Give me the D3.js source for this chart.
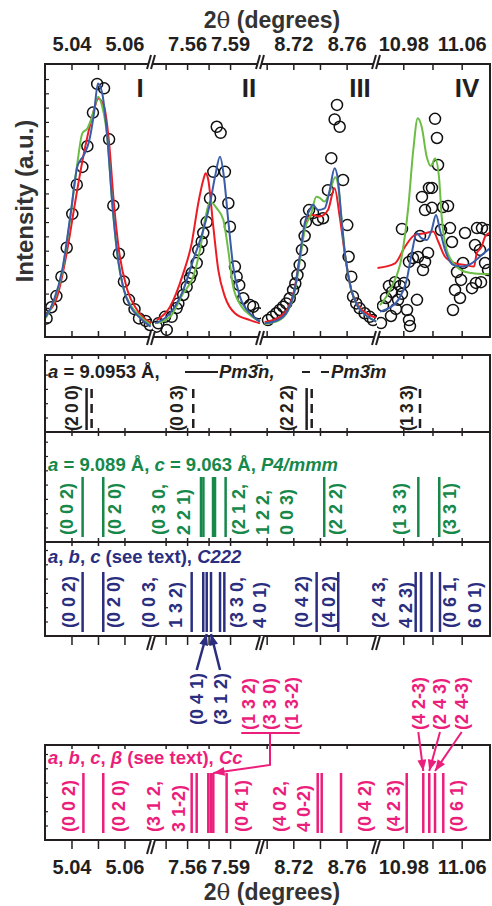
<!DOCTYPE html>
<html>
<head>
<meta charset="utf-8">
<script src="https://cdn.jsdelivr.net/npm/d3@7"></script>
<style>
  body { margin: 0; background: #fff; }
  svg { display: block; font-family: "Liberation Sans", Arial, sans-serif; font-weight: bold; }
</style>
</head>
<body>
<script>
// ---- data (2theta in degrees, intensity in arbitrary units) ----
const segDomains = [[5.03, 5.0704], [7.5355, 7.6116], [8.69575, 8.7828], [10.944, 11.0988]];
const majorTicks = [5.04, 5.06, 7.56, 7.59, 8.72, 8.76, 10.98, 11.06];
const tickLabels = ['5.04', '5.06', '7.56', '7.59', '8.72', '8.76', '10.98', '11.06'];
const minorTicks = [5.05, 7.545, 7.575, 8.70, 8.74, 11.02];
const peakNames = ['I', 'II', 'III', 'IV'];

const obs1 = [[5.0306,6.8],[5.0324,10.9],[5.0343,15.0],[5.0362,22.1],[5.0382,32.7],[5.0403,45.1],[5.0420,55.8],[5.0441,62.3],[5.0460,69.9],[5.0481,82.2],[5.0497,92.7],[5.0523,91.1],[5.0542,72.4],[5.0558,48.1],[5.0579,30.5],[5.0598,20.3],[5.0617,13.6],[5.0638,10.2],[5.0655,6.8],[5.0680,5.9],[5.0696,4.4]];
const red1 = [[5.0309,8.8],[5.0346,14.8],[5.0384,31.9],[5.0409,46.5],[5.0435,61.2],[5.0460,73.4],[5.0485,83.2],[5.0501,87.4],[5.0523,84.4],[5.0542,71.1],[5.0560,49.1],[5.0579,31.9],[5.0611,17.2],[5.0648,9.9],[5.0699,5.1]];
const green1 = [[5.0303,7.0],[5.0334,13.2],[5.0365,23.8],[5.0397,44.7],[5.0422,63.6],[5.0441,74.6],[5.0460,76.4],[5.0478,80.7],[5.0501,88.0],[5.0516,84.4],[5.0535,73.4],[5.0554,49.0],[5.0573,30.0],[5.0598,17.2],[5.0623,11.7],[5.0661,7.4],[5.0699,4.4]];
const blue1 = [[5.0303,7.4],[5.0334,13.6],[5.0365,24.5],[5.0397,45.3],[5.0422,62.4],[5.0447,66.7],[5.0466,71.5],[5.0485,81.9],[5.0500,92.9],[5.0516,89.3],[5.0535,73.4],[5.0554,49.0],[5.0573,30.7],[5.0598,17.2],[5.0623,11.1],[5.0661,6.8],[5.0699,3.8]];

const obs2 = [[7.5388,3.8],[7.5399,5.0],[7.5446,7.4],[7.5458,2.6],[7.5492,7.4],[7.5527,10.6],[7.5539,12.3],[7.5573,15.4],[7.5597,18.4],[7.5620,21.6],[7.5632,23.4],[7.5667,27.1],[7.5678,31.9],[7.5702,34.9],[7.5713,38.1],[7.5737,42.1],[7.5760,50.8],[7.5783,60.5],[7.5807,77.0],[7.5834,74.8],[7.5864,60.5],[7.5888,49.0],[7.5899,40.4],[7.5934,25.8],[7.5946,22.1],[7.5964,19.0],[7.5992,14.2],[7.6039,11.7],[7.6062,11.1],[7.6097,8.7]];
const red2 = [[7.5388,6.2],[7.5481,11.1],[7.5573,23.3],[7.5632,34.3],[7.5678,49.0],[7.5713,57.5],[7.5730,60.0],[7.5748,57.5],[7.5783,40.4],[7.5818,24.5],[7.5864,14.8],[7.5934,8.7],[7.6039,6.2],[7.6109,5.0]];
const green2 = [[7.5388,5.0],[7.5481,7.4],[7.5573,16.0],[7.5643,22.1],[7.5690,31.9],[7.5725,42.9],[7.5760,49.6],[7.5806,47.2],[7.5853,42.9],[7.5887,31.9],[7.5922,18.4],[7.5981,11.1],[7.6039,8.1],[7.6109,5.6]];
const blue2 = [[7.5376,5.0],[7.5481,8.7],[7.5573,17.2],[7.5643,28.2],[7.5713,39.2],[7.5760,49.0],[7.5795,58.7],[7.5830,66.0],[7.5857,58.7],[7.5887,42.9],[7.5922,25.8],[7.5969,14.8],[7.6039,8.7],[7.6109,5.6]];

const obs3 = [[8.7010,6.2],[8.7040,7.4],[8.7072,8.7],[8.7098,9.9],[8.7123,11.1],[8.7147,12.3],[8.7173,14.2],[8.7198,17.2],[8.7215,19.6],[8.7231,22.7],[8.7248,26.4],[8.7265,31.9],[8.7285,37.0],[8.7295,42.1],[8.7318,46.5],[8.7348,45.4],[8.7385,42.9],[8.7423,43.5],[8.7460,53.8],[8.7485,65.5],[8.7510,79.7],[8.7528,85.0],[8.7548,77.0],[8.7573,57.5],[8.7605,41.0],[8.7615,29.4],[8.7635,22.1],[8.7648,14.8],[8.7672,12.3],[8.7698,10.5],[8.7735,8.7],[8.7773,7.4],[8.7798,6.2]];
const red3 = [[8.6985,5.5],[8.7085,7.0],[8.7160,10.6],[8.7210,17.9],[8.7248,28.9],[8.7285,39.9],[8.7323,44.3],[8.7348,44.7],[8.7398,44.1],[8.7460,46.5],[8.7510,54.5],[8.7548,44.1],[8.7590,29.4],[8.7635,17.2],[8.7685,11.7],[8.7760,8.4],[8.7822,7.0]];
const green3 = [[8.6985,4.8],[8.7085,5.9],[8.7160,9.5],[8.7210,16.5],[8.7248,27.5],[8.7285,39.2],[8.7335,45.3],[8.7372,51.4],[8.7400,50.9],[8.7435,49.6],[8.7473,53.1],[8.7515,58.5],[8.7539,54.6],[8.7560,44.1],[8.7590,29.4],[8.7635,17.2],[8.7685,11.1],[8.7760,7.4],[8.7822,5.6]];
const blue3 = [[8.6985,5.0],[8.7085,6.2],[8.7160,9.9],[8.7210,17.2],[8.7248,29.4],[8.7285,41.6],[8.7323,46.5],[8.7348,48.4],[8.7385,46.5],[8.7435,47.1],[8.7473,53.8],[8.7510,61.8],[8.7535,57.5],[8.7560,44.1],[8.7590,29.4],[8.7635,17.2],[8.7685,11.1],[8.7760,7.4],[8.7822,5.6]];

const obs4 = [[10.9495,5.1],[10.9522,11.4],[10.9563,14.3],[10.9604,18.7],[10.9632,7.7],[10.9645,16.5],[10.9687,20.1],[10.9700,10.3],[10.9728,13.6],[10.9755,18.7],[10.9782,15.8],[10.9810,19.8],[10.9851,9.9],[10.9878,6.2],[10.9892,4.0],[10.9782,39.6],[10.9878,27.5],[10.9933,28.9],[10.9988,13.6],[11.0002,29.3],[11.0029,37.0],[11.0056,51.3],[11.0070,24.5],[11.0098,46.5],[11.0098,27.5],[11.0139,30.8],[11.0152,54.6],[11.0193,54.6],[11.0193,47.3],[11.0235,79.9],[11.0262,72.9],[11.0276,63.0],[11.0317,39.2],[11.0344,47.6],[11.0413,48.0],[11.0440,39.9],[11.0467,34.8],[11.0481,9.9],[11.0509,17.2],[11.0536,23.8],[11.0577,14.3],[11.0591,20.9],[11.0618,27.1],[11.0646,38.1],[11.0741,17.9],[11.0783,33.7],[11.0796,19.8],[11.0810,39.9],[11.0851,31.9],[11.0865,20.1],[11.0878,39.9],[11.0920,27.1],[11.0947,39.2],[11.0961,24.5]];
const red4 = [[10.9447,25.3],[10.9687,27.0],[10.9824,33.1],[10.9961,37.4],[11.0098,38.0],[11.0211,38.6],[11.0280,34.9],[11.0372,29.4],[11.0508,27.0],[11.0645,26.4],[11.0769,25.8],[11.0806,30.7],[11.0874,33.1],[11.0920,36.7],[11.0988,38.2]];
const green4 = [[10.9481,11.7],[10.9641,18.4],[10.9778,29.4],[10.9869,47.7],[10.9937,68.5],[10.9998,80.1],[11.0052,77.0],[11.0121,66.0],[11.0180,62.6],[11.0235,65.4],[11.0289,58.7],[11.0326,44.1],[11.0395,31.9],[11.0508,26.4],[11.0645,23.9],[11.0782,23.3],[11.0988,23.1]];
const blue4 = [[10.9481,9.3],[10.9595,10.5],[10.9732,13.6],[10.9847,20.9],[10.9916,30.7],[10.9984,38.0],[11.0052,36.1],[11.0121,35.5],[11.0189,39.2],[11.0248,44.7],[11.0303,39.2],[11.0372,31.9],[11.0485,26.4],[11.0600,25.8],[11.0737,27.0],[11.0874,30.0],[11.0988,32.5]];

// reflection positions (2theta) and hkl labels
const cubicSolid = [5.0457, 8.7300];
const cubicDashed = [5.0476, 7.5643, 8.7338, 11.0029];
const cubicLabels = [['(2 0 0)', 5.0401], ['(0 0 3)', 7.5527], ['(2 2 2)', 8.7150], ['(1 3 3)', 10.9847]];

const tetraLines = [5.0442, 5.0520, 7.5697, 7.5714, 7.5781, 7.5795, 7.5869, 8.7432, 11.0006, 11.0293];
const tetraLabels = [['(0 0 2)', 5.0381], ['(0 2 0)', 5.0564], ['(0 3 0,', 7.5399], ['2 2 1)', 7.5573], ['(2 1 2,', 7.5957], ['1 2 2,', 8.6970], ['0 0 3)', 8.7150], ['(2 2 2)', 8.7520], ['(1 3 3)', 10.9755], ['(3 3 1)', 11.0440]];

const orthoLines = [5.0442, 5.0520, 7.5632, 7.5713, 7.5737, 7.5767, 7.5830, 7.5860, 8.7375, 8.7537, 10.9970, 11.0043, 11.0189, 11.0303];
const orthoLabels = [['(0 0 2)', 5.0388], ['(0 2 0)', 5.0560], ['(0 0 3,', 5.0690], ['1 3 2)', 7.5516], ['(3 3 0,', 7.5946], ['4 0 1)', 7.6109], ['(0 4 2)', 8.7263], ['(4 0 2)', 8.7462], ['(2 4 3,', 10.9458], ['4 2 3)', 10.9824], ['(0 6 1,', 11.0440], ['6 0 1)', 11.0782]];
const orthoArrows = [['(0 4 1)', 7.5667, 7.5737], ['(3 1 2)', 7.5830, 7.5767]];

const monoLines = [5.0445, 5.0520, 7.5632, 7.5667, 7.5748, 7.5765, 7.5783, 7.5876, 8.7383, 8.7413, 8.7558, 10.9847, 11.0074, 11.0156, 11.0235, 11.0348];
const monoLabels = [['(0 0 2)', 5.0388], ['(0 2 0)', 5.0577], ['(3 1 2,', 7.5364], ['3 1-2)', 7.5539], ['(0 4 1)', 7.5981], ['(4 0 2,', 8.7100], ['4 0-2)', 8.7275], ['(0 4 2)', 8.7738], ['(4 2 3)', 10.9663], ['(0 6 1)', 11.0532]];
const monoGroupLabels = [['(1 3 2)', 7.6027], ['(3 3 0)', 8.7025], ['(1 3-2)', 8.7188]];
const monoGroupTarget = 7.5783;
const monoArrows = [['(4 2-3)', 11.0006, 11.0074], ['(2 4 3)', 11.0303, 11.0156], ['(2 4-3)', 11.0600, 11.0235]];

// ---- layout ----
const W = 492, H = 906;
const L = 45, R = 490;
const edges = [45, 152, 261, 377, 490];
const mainTop = 64, mainBot = 337;
const panels = [[355, 432], [432, 542], [542, 636], [745, 840]];
const ink = '#231f20';
const cRed = '#ec1c24', cGreen = '#6cbd45', cBlue = '#3a5ca9';
const cTetra = '#16884a', cOrtho = '#2b2e7f', cMono = '#ec1e7b';

const svg = d3.select('body').append('svg').attr('width', W).attr('height', H);
const defs = svg.append('defs');

const xs = segDomains.map((d, i) => d3.scaleLinear().domain(d).range([edges[i], edges[i + 1]]));
function xPos(v) {
  const s = xs.find(s => v <= s.domain()[1]) || xs[xs.length - 1];
  return s(v);
}
const y = d3.scaleLinear().domain([0, 100]).range([mainBot, mainTop]);

// ---- main plot ----
const line = d3.line().x(d => xPos(d[0])).y(d => y(d[1])).curve(d3.curveMonotoneX);
const series = [
  [obs1, red1, green1, blue1],
  [obs2, red2, green2, blue2],
  [obs3, red3, green3, blue3],
  [obs4, red4, green4, blue4]
];
series.forEach((s, i) => {
  defs.append('clipPath').attr('id', 'seg' + i)
    .append('rect')
    .attr('x', edges[i]).attr('y', mainTop)
    .attr('width', edges[i + 1] - edges[i]).attr('height', mainBot - mainTop);
  const g = svg.append('g').attr('clip-path', `url(#seg${i})`);
  g.selectAll('circle')
    .data(s[0])
    .enter()
    .append('circle')
    .attr('cx', d => xPos(d[0]))
    .attr('cy', d => y(d[1]))
    .attr('r', 5.5)
    .attr('fill', 'none')
    .attr('stroke', '#111')
    .attr('stroke-width', 1.5);
  [[s[1], cRed], [s[2], cGreen], [s[3], cBlue]].forEach(([d, c]) => {
    g.append('path').datum(d)
      .attr('d', line)
      .attr('fill', 'none')
      .attr('stroke', c)
      .attr('stroke-width', 2);
  });
});

svg.selectAll('.roman')
  .data(peakNames)
  .enter()
  .append('text')
  .attr('x', (d, i) => [140, 249, 360, 467][i])
  .attr('y', 97)
  .attr('text-anchor', 'middle')
  .attr('fill', ink)
  .style('font-size', '26px')
  .text(d => d);

svg.append('rect')
  .attr('x', L).attr('y', mainTop).attr('width', R - L).attr('height', mainBot - mainTop)
  .attr('fill', 'none').attr('stroke', ink).attr('stroke-width', 2);

// left minor ticks of intensity axis
const yTicks = d3.range(1, 19).map(k => k * 5.24);
svg.selectAll('.ytick')
  .data(yTicks)
  .enter()
  .append('line')
  .attr('x1', L).attr('x2', L + 4)
  .attr('y1', d => y(d)).attr('y2', d => y(d))
  .attr('stroke', ink).attr('stroke-width', 1.2);

// x axes per segment
const allTicks = majorTicks.concat(minorTicks);
function labelOf(v) {
  const i = majorTicks.indexOf(v);
  return i >= 0 ? tickLabels[i] : '';
}
function drawAxis(yy, maker, size, pad, withLabels) {
  xs.forEach(s => {
    const dm = s.domain();
    const vals = allTicks.filter(v => v >= dm[0] && v <= dm[1]);
    const ax = maker(s).tickValues(vals).tickSizeInner(size).tickSizeOuter(0).tickPadding(pad)
      .tickFormat(v => withLabels ? labelOf(v) : '');
    const g = svg.append('g').attr('transform', `translate(0,${yy})`).call(ax);
    g.select('.domain').remove();
    g.selectAll('line').attr('stroke', ink).attr('stroke-width', 1.5);
    g.selectAll('text')
      .attr('fill', ink)
      .style('font-size', '20px')
      .style('font-family', '"Liberation Sans", Arial, sans-serif')
      .style('font-weight', 'bold');
  });
}
drawAxis(mainTop, d3.axisTop, -6, 13, true);
drawAxis(mainBot, d3.axisBottom, -6, 4, false);

// ---- reflection panels ----
panels.forEach(([t, b]) => {
  svg.append('rect')
    .attr('x', L).attr('y', t).attr('width', R - L).attr('height', b - t)
    .attr('fill', 'none').attr('stroke', ink).attr('stroke-width', 2);
  drawAxis(t, d3.axisTop, -4, 3, false);
  svg.selectAll(null)
    .data(d3.range(b - 14, t + 4, -14.3))
    .enter()
    .append('line')
    .attr('x1', L).attr('x2', L + 3)
    .attr('y1', d => d).attr('y2', d => d)
    .attr('stroke', ink).attr('stroke-width', 1.2);
});
drawAxis(panels[0][1], d3.axisBottom, -4, 3, false);
drawAxis(panels[1][1], d3.axisBottom, -4, 3, false);
drawAxis(panels[2][1], d3.axisBottom, 9, 3, false);
drawAxis(panels[3][1], d3.axisBottom, 9, 11, true);

function vLines(vals, top, bot, color, width, dash) {
  svg.append('g').selectAll('line')
    .data(vals)
    .enter()
    .append('line')
    .attr('x1', d => xPos(d)).attr('x2', d => xPos(d))
    .attr('y1', top).attr('y2', bot)
    .attr('stroke', color)
    .attr('stroke-width', width)
    .attr('stroke-dasharray', dash || null);
}
function rotLabels(labels, bottom, color, size, spacing) {
  svg.append('g').selectAll('text')
    .data(labels)
    .enter()
    .append('text')
    .attr('transform', d => `translate(${xPos(d[1])},${bottom}) rotate(-90)`)
    .attr('dy', '0.36em')
    .attr('fill', color)
    .style('font-size', (size || 18) + 'px')
    .style('letter-spacing', (spacing || 0) + 'px')
    .text(d => d[0]);
}
function header(yy, color, parts) {
  const t = svg.append('text').attr('x', 48).attr('y', yy).attr('fill', color).style('font-size', '18.5px');
  parts.forEach(([s, it]) => t.append('tspan').style('font-style', it ? 'italic' : 'normal').text(s));
  return t;
}

// panel 1: cubic
header(378, ink, [['a', 1], [' = 9.0953 \u00c5,', 0]]);
svg.append('line').attr('x1', 185).attr('x2', 218).attr('y1', 372).attr('y2', 372).attr('stroke', ink).attr('stroke-width', 2);
svg.append('text').attr('x', 219).attr('y', 378).attr('fill', ink).style('font-size', '18.5px').style('font-style', 'italic').text('Pm3\u0304n,');
svg.append('line').attr('x1', 302).attr('x2', 329).attr('y1', 372).attr('y2', 372).attr('stroke', ink).attr('stroke-width', 2).attr('stroke-dasharray', '8,11');
svg.append('text').attr('x', 331).attr('y', 378).attr('fill', ink).style('font-size', '18.5px').style('font-style', 'italic').text('Pm3\u0304m');
vLines(cubicSolid, 388, 430, ink, 2.5);
vLines(cubicDashed, 389, 430, ink, 2.5, '9,6');
rotLabels(cubicLabels, 431, ink, 17.5, -0.8);

// panel 2: tetragonal
header(471, cTetra, [['a', 1], [' = 9.089 \u00c5, ', 0], ['c', 1], [' = 9.063 \u00c5, ', 0], ['P4/mmm', 1]]);
vLines(tetraLines, 477, 537, cTetra, 2.5);
rotLabels(tetraLabels, 535, cTetra);

// panel 3: orthorhombic
header(563, cOrtho, [['a', 1], [', ', 0], ['b', 1], [', ', 0], ['c', 1], [' (see text), ', 0], ['C222', 1]]);
vLines(orthoLines, 572, 632, cOrtho, 2.5);
rotLabels(orthoLabels, 628, cOrtho);

// panel 4: monoclinic
header(764, cMono, [['a', 1], [', ', 0], ['b', 1], [', ', 0], ['c', 1], [', ', 0], ['\u03b2', 1], [' (see text), ', 0], ['Cc', 1]]);
vLines(monoLines, 773, 833, cMono, 2.5);
rotLabels(monoLabels, 832, cMono);

// ---- arrows between panels ----
function marker(id, color) {
  defs.append('marker').attr('id', id)
    .attr('viewBox', '0 0 10 8').attr('refX', 10).attr('refY', 4)
    .attr('markerWidth', 12).attr('markerHeight', 9)
    .attr('markerUnits', 'userSpaceOnUse').attr('orient', 'auto')
    .append('path').attr('d', 'M0,0L10,4L0,8z').attr('fill', color);
}
marker('arrOrtho', cOrtho);
marker('arrMono', cMono);

rotLabels(orthoArrows, 725, cOrtho);
svg.append('g').selectAll('line')
  .data(orthoArrows)
  .enter()
  .append('line')
  .attr('x1', d => xPos(d[1])).attr('y1', 670)
  .attr('x2', d => xPos(d[2])).attr('y2', 634)
  .attr('stroke', cOrtho).attr('stroke-width', 2.5)
  .attr('marker-end', 'url(#arrOrtho)');

rotLabels(monoGroupLabels, 730, cMono);
const gx = monoGroupLabels.map(d => xPos(d[1]));
svg.append('line')
  .attr('x1', gx[0] - 7).attr('x2', gx[2] + 8).attr('y1', 733).attr('y2', 733)
  .attr('stroke', cMono).attr('stroke-width', 2);
svg.append('path')
  .attr('d', `M${gx[1]},733V765L${xPos(monoGroupTarget)},773`)
  .attr('fill', 'none').attr('stroke', cMono).attr('stroke-width', 2)
  .attr('marker-end', 'url(#arrMono)');

rotLabels(monoArrows, 730, cMono);
svg.append('g').selectAll('line')
  .data(monoArrows)
  .enter()
  .append('line')
  .attr('x1', d => xPos(d[1])).attr('y1', 732)
  .attr('x2', d => xPos(d[2])).attr('y2', 771)
  .attr('stroke', cMono).attr('stroke-width', 2)
  .attr('marker-end', 'url(#arrMono)');

// ---- axis breaks ----
function breakMark(x, yy) {
  const g = svg.append('g').attr('transform', `translate(${x},${yy})`);
  g.append('polygon').attr('points', '-5,7 -1,7 3,-7 -1,-7').attr('fill', '#fff');
  g.append('line').attr('x1', -5).attr('y1', 7).attr('x2', -1).attr('y2', -7).attr('stroke', ink).attr('stroke-width', 2);
  g.append('line').attr('x1', -1).attr('y1', 7).attr('x2', 3).attr('y2', -7).attr('stroke', ink).attr('stroke-width', 2);
}
edges.slice(1, 4).forEach(x => {
  breakMark(x, mainTop - 2);
  breakMark(x, mainBot + 1);
  breakMark(x, panels[2][1] + 7);
  breakMark(x, panels[3][1] + 7);
});

// ---- titles ----
function xTitle(yy) {
  const t = svg.append('text').attr('x', 272).attr('y', yy).attr('text-anchor', 'middle')
    .attr('fill', '#333').style('font-size', '23px');
  t.append('tspan').text('2');
  t.append('tspan').style('font-weight', 'normal').style('font-family', '"DejaVu Serif", serif').text('\u03b8');
  t.append('tspan').text(' (degrees)');
}
xTitle(28);
xTitle(900);
svg.append('text')
  .attr('transform', 'translate(33,201) rotate(-90)')
  .attr('text-anchor', 'middle')
  .attr('fill', '#333')
  .style('font-size', '24px')
  .text('Intensity (a.u.)');
</script>
</body>
</html>
